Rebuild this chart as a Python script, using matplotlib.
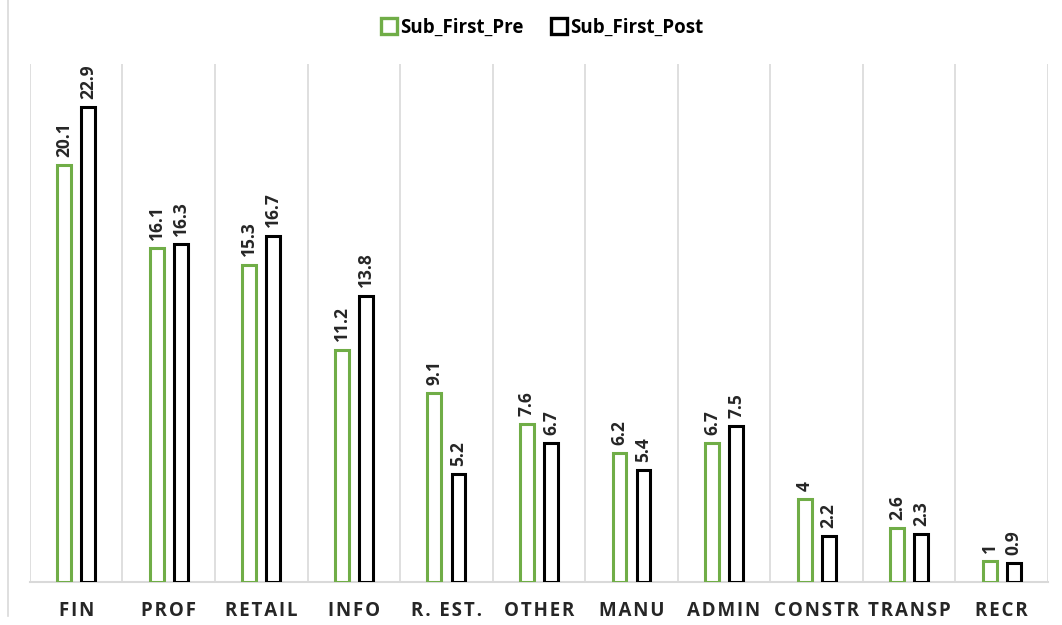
"""
Sub_First pre/post share by sector, grouped outline bars.
"""
import numpy as np
import matplotlib.pyplot as plt
from matplotlib.lines import Line2D

# ==== data ==== #
SECTORS = ['FIN', 'PROF', 'RETAIL', 'INFO', 'R. EST.', 'OTHER',
           'MANU', 'ADMIN', 'CONSTR', 'TRANSP', 'RECR']
SUB_FIRST_PRE = [20.1, 16.1, 15.3, 11.2, 9.1, 7.6, 6.2, 6.7, 4, 2.6, 1]
SUB_FIRST_POST = [22.9, 16.3, 16.7, 13.8, 5.2, 6.7, 5.4, 7.5, 2.2, 2.3, 0.9]
PRE_LABELS = ['20.1', '16.1', '15.3', '11.2', '9.1', '7.6', '6.2', '6.7', '4', '2.6', '1']
POST_LABELS = ['22.9', '16.3', '16.7', '13.8', '5.2', '6.7', '5.4', '7.5', '2.2', '2.3', '0.9']

# ==== style ==== #
GREEN = '#70ad47'
BLACK = '#000000'
GRID = '#d9d9d9'
FONT = 'Open Sans'


def spaced(text):
    """Spread the letters a little, like the tracked axis labels."""
    return '\u200a'.join(text)


def drawChart():
    plt.rcParams['font.family'] = [FONT, 'DejaVu Sans']
    fig = plt.figure(figsize=(10.62, 6.25), dpi=100)
    ax = fig.add_axes([0.0282, 0.0688, 0.9586, 0.8296])

    x = np.arange(len(SECTORS))
    width = 0.15
    offset = 0.13

    barsPre = ax.bar(x - offset, SUB_FIRST_PRE, width, facecolor='white',
                     edgecolor=GREEN, linewidth=2.2, label='Sub_First_Pre', zorder=3)
    barsPost = ax.bar(x + offset, SUB_FIRST_POST, width, facecolor='white',
                      edgecolor=BLACK, linewidth=2.2, label='Sub_First_Post', zorder=3)

    for bars, labels in ((barsPre, PRE_LABELS), (barsPost, POST_LABELS)):
        for bar, label in zip(bars, labels):
            ax.annotate(label, (bar.get_x() + bar.get_width() / 2, bar.get_height()),
                        xytext=(0, 6), textcoords='offset points',
                        rotation=90, ha='center', va='bottom',
                        fontsize=12.5, fontweight='bold', color='#262626')

    ax.set_xlim(-0.5, len(SECTORS) - 0.5)
    ax.set_ylim(0, 25)
    ax.set_xticks(x)
    ax.set_xticklabels([spaced(s) for s in SECTORS], fontsize=13.5,
                       fontweight='bold', color='#262626')
    ax.set_xticks(np.arange(len(SECTORS) + 1) - 0.5, minor=True)
    ax.tick_params(axis='x', which='both', length=0, pad=14)
    ax.set_yticks([])
    ax.grid(True, axis='x', which='minor', color=GRID, linewidth=1.2, zorder=0)

    for side in ('top', 'right', 'left'):
        ax.spines[side].set_visible(False)
    ax.spines['bottom'].set_color(GRID)
    ax.spines['bottom'].set_linewidth(1.5)

    handles = [
        Line2D([], [], marker='s', linestyle='none', markersize=11,
               markerfacecolor='white', markeredgecolor=GREEN, markeredgewidth=2.4),
        Line2D([], [], marker='s', linestyle='none', markersize=11,
               markerfacecolor='white', markeredgecolor=BLACK, markeredgewidth=2.4),
    ]
    fig.legend(handles, ['Sub_First_Pre', 'Sub_First_Post'], loc='center',
               bbox_to_anchor=(0.51, 0.956), ncol=2, frameon=False,
               prop={'weight': 'bold', 'size': 13.5}, handletextpad=0.1,
               columnspacing=1.4, handlelength=1.0)

    # thin frame line on the left edge of the chart area
    fig.add_artist(Line2D([0.0075, 0.0075], [0.015, 1.0], color=GRID,
                          linewidth=1.2, transform=fig.transFigure))

    fig.savefig('out.png', dpi=100)


if __name__ == '__main__':
    drawChart()
